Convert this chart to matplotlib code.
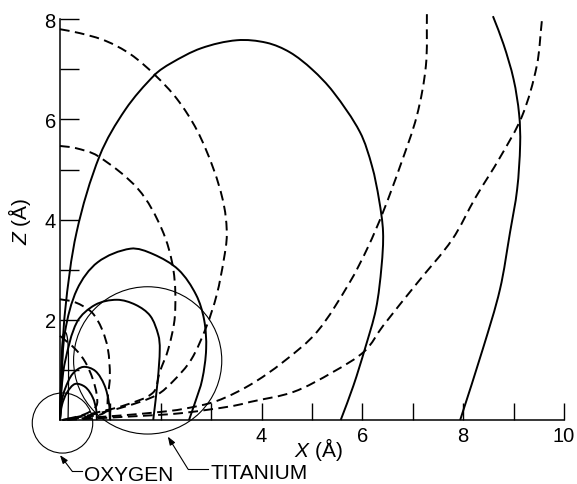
import matplotlib
matplotlib.use("Agg")

import matplotlib.pyplot as plt
import numpy as np
from matplotlib.path import Path
from matplotlib.patches import PathPatch, Circle

plt.rcParams["font.family"] = ["Liberation Sans", "DejaVu Sans"]
plt.rcParams["mathtext.fontset"] = "custom"
plt.rcParams["mathtext.it"] = "Liberation Sans:italic"
plt.rcParams["mathtext.rm"] = "Liberation Sans"

# ---- solid trajectories (x, z in Angstrom) ----
s_big_x = [0.0, 0.03, 0.1, 0.33, 0.79, 1.3, 1.88, 2.2, 2.8, 3.51, 4.1, 4.56,
           5.0, 5.42, 5.95, 6.19, 6.33, 6.41, 6.38, 6.27, 6.05, 5.82, 5.57]
s_big_z = [0.0, 0.9, 2.16, 3.75, 5.28, 6.2, 6.89, 7.12, 7.42, 7.58, 7.53, 7.34,
           7.0, 6.55, 5.75, 5.07, 4.4, 3.75, 3.07, 2.22, 1.42, 0.68, 0.0]

s_far_x = [7.94, 8.39, 8.73, 8.93, 9.07, 9.13, 9.11, 9.0, 8.8, 8.59]
s_far_z = [0.0, 1.42, 2.61, 3.75, 4.6, 5.5, 6.1, 6.8, 7.5, 8.06]

s_mid_x = [0.0, 0.03, 0.1, 0.34, 0.75, 1.4, 1.85, 2.35, 2.7, 2.86, 2.9, 2.82, 2.68, 2.56]
s_mid_z = [0.0, 0.8, 1.76, 2.61, 3.15, 3.42, 3.31, 3.0, 2.5, 2.0, 1.42, 0.8, 0.35, 0.0]

s_low_x = [0.0, 0.03, 0.1, 0.34, 0.7, 1.13, 1.5, 1.79, 1.95, 1.98, 1.94, 1.85]
s_low_z = [0.0, 0.6, 1.16, 1.96, 2.3, 2.4, 2.3, 2.08, 1.7, 1.42, 0.8, 0.0]

s_small_x = [0.0, 0.03, 0.1, 0.25, 0.46, 0.7, 0.88, 0.97, 0.99]
s_small_z = [0.0, 0.35, 0.62, 0.92, 1.06, 0.98, 0.7, 0.35, 0.0]

s_tiny_x = [0.0, 0.04, 0.14, 0.3, 0.5, 0.65, 0.72, 0.73]
s_tiny_z = [0.0, 0.3, 0.55, 0.72, 0.66, 0.45, 0.2, 0.0]

s_thin_x = [0.0, 0.02, 0.06, 0.12, 0.16, 0.17, 0.16]
s_thin_z = [0.0, 1.0, 1.7, 1.74, 1.5, 0.8, 0.0]

# ---- dashed trajectories ----
d_a_x = [0.0, 0.4, 0.9, 1.4, 1.88, 2.32, 2.72, 3.05, 3.25, 3.31, 3.25, 3.11, 2.9,
         2.6, 2.25, 1.92, 1.3, 0.6, 0.05]
d_a_z = [7.8, 7.72, 7.57, 7.3, 6.89, 6.41, 5.78, 5.0, 4.3, 3.7, 3.2, 2.5, 1.85,
         1.2, 0.78, 0.5, 0.27, 0.1, 0.0]

d_b_x = [0.0, 0.3, 0.75, 1.55, 2.02, 2.25, 2.28, 2.15, 1.98, 1.85, 1.3, 0.6, 0.05]
d_b_z = [5.47, 5.43, 5.27, 4.61, 3.81, 3.0, 2.08, 1.42, 0.96, 0.55, 0.3, 0.12, 0.0]

d_c_x = [0.0, 0.3, 0.63, 0.83, 0.95, 0.99, 0.95, 0.9, 0.5, 0.05]
d_c_z = [2.41, 2.35, 2.15, 1.82, 1.42, 0.88, 0.48, 0.16, 0.06, 0.0]

d_d_x = [0.0, 0.3, 0.5, 0.65, 0.73, 0.72, 0.5, 0.05]
d_d_z = [1.68, 1.42, 1.16, 0.82, 0.5, 0.28, 0.12, 0.0]

d_j1_x = [7.28, 7.26, 7.08, 6.75, 6.41, 6.11, 5.75, 5.1, 4.43, 3.77, 3.11, 2.44,
          1.98, 1.2, 0.5, 0.05]
d_j1_z = [8.1, 7.07, 6.07, 5.07, 4.15, 3.45, 2.75, 1.76, 1.16, 0.7, 0.38, 0.22,
          0.16, 0.09, 0.04, 0.0]

d_j2_x = [9.56, 9.46, 9.17, 8.73, 8.25, 7.78, 7.1, 6.41, 6.05, 5.42, 4.63, 3.77,
          3.43, 2.44, 1.92, 1.2, 0.5, 0.05]
d_j2_z = [7.96, 7.07, 6.07, 5.24, 4.45, 3.6, 2.75, 1.88, 1.38, 0.96, 0.56, 0.36,
          0.28, 0.14, 0.1, 0.06, 0.02, 0.0]

# atoms: centre x, centre z, radius
oxygen = (0.05, -0.06, 0.6)
titanium = (1.74, 1.19, 1.47)

x_ticks = [1, 2, 3, 4, 5, 6, 7, 8, 9, 10]
x_labels = ["", "", "", "4", "", "6", "", "8", "", "10"]
z_ticks = [1, 2, 3, 4, 5, 6, 7, 8]
z_labels = ["", "2", "", "4", "", "6", "", "8"]


def smooth_path(xs, zs):
    """Cubic Bezier path through the points, tangents scaled by chord length."""
    pts = np.column_stack([xs, zs]).astype(float)
    n = len(pts)
    seg = np.hypot(*np.diff(pts, axis=0).T)
    tang = np.zeros_like(pts)
    tang[0] = (pts[1] - pts[0]) / seg[0]
    tang[-1] = (pts[-1] - pts[-2]) / seg[-1]
    for i in range(1, n - 1):
        tang[i] = (pts[i + 1] - pts[i - 1]) / (seg[i - 1] + seg[i])
    verts = [pts[0]]
    codes = [Path.MOVETO]
    for i in range(n - 1):
        d = seg[i] / 3.0
        verts += [pts[i] + tang[i] * d, pts[i + 1] - tang[i + 1] * d, pts[i + 1]]
        codes += [Path.CURVE4] * 3
    return Path(verts, codes)


fig = plt.figure(figsize=(5.77, 4.85), dpi=100)
ax = fig.add_axes([0, 0, 1, 1])
ax.set_xlim(-1.190, 10.258)
ax.set_ylim(-1.277, 8.403)

solid = [(s_big_x, s_big_z), (s_far_x, s_far_z), (s_mid_x, s_mid_z),
         (s_low_x, s_low_z), (s_small_x, s_small_z), (s_tiny_x, s_tiny_z)]
for xs, zs in solid:
    ax.add_patch(PathPatch(smooth_path(xs, zs), fill=False, ec="black",
                           lw=1.4, capstyle="butt"))
ax.add_patch(PathPatch(smooth_path(s_thin_x, s_thin_z), fill=False,
                       ec="black", lw=0.9))

dashed = [(d_a_x, d_a_z), (d_b_x, d_b_z), (d_c_x, d_c_z), (d_d_x, d_d_z),
          (d_j1_x, d_j1_z), (d_j2_x, d_j2_z)]
for xs, zs in dashed:
    ax.add_patch(PathPatch(smooth_path(xs, zs), fill=False, ec="black",
                           lw=1.4, linestyle=(0, (5.0, 2.8))))

for cx, cz, r in (oxygen, titanium):
    ax.add_patch(Circle((cx, cz), r, fill=False, ec="black", lw=0.8))

# axes through the origin
for side in ("top", "right"):
    ax.spines[side].set_visible(False)
ax.spines["left"].set_position(("data", 0))
ax.spines["bottom"].set_position(("data", 0))
ax.spines["left"].set_bounds(0, 8)
ax.spines["bottom"].set_bounds(0, 10)
ax.spines["left"].set_linewidth(1.1)
ax.spines["bottom"].set_linewidth(1.1)

ax.set_xticks(x_ticks)
ax.set_xticklabels(x_labels)
ax.set_yticks(z_ticks)
ax.set_yticklabels(z_labels)
ax.tick_params(axis="x", direction="in", length=12, width=1.0, pad=4, labelsize=14.5)
ax.tick_params(axis="y", direction="in", length=14, width=1.0, pad=3, labelsize=14.5)

ax.text(5.13, -0.72, r"$X$ (Å)", ha="center", va="baseline", fontsize=15)
ax.text(-0.80, 3.99, r"$Z$ (Å)", ha="center", va="center", fontsize=15,
        rotation=90)

# atom labels with bent leaders
arrow = dict(arrowstyle="-|>,head_length=0.5,head_width=0.18", color="black",
             lw=0.8, shrinkA=0, shrinkB=0)
ax.plot([0.44, 0.24], [-1.02, -1.02], color="black", lw=0.8)
ax.annotate("", xy=(0.0, -0.70), xytext=(0.24, -1.02), arrowprops=arrow)
ax.text(0.47, -1.19, "OXYGEN", ha="left", va="baseline", fontsize=15)

ax.plot([2.94, 2.54], [-0.98, -0.98], color="black", lw=0.8)
ax.annotate("", xy=(2.14, -0.33), xytext=(2.54, -0.98), arrowprops=arrow)
ax.text(2.98, -1.16, "TITANIUM", ha="left", va="baseline", fontsize=15)

fig.savefig("out.png", dpi=100, facecolor="white")
